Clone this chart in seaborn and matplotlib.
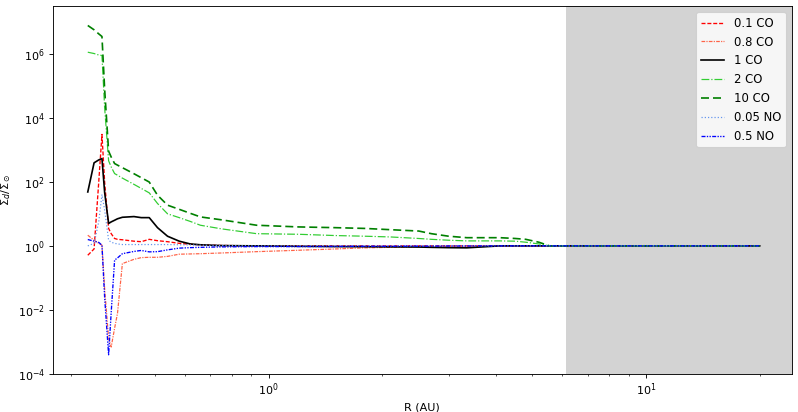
import matplotlib
matplotlib.use("Agg")
import matplotlib.pyplot as plt
import seaborn as sns
import numpy as np

R = [0.332, 0.345, 0.355, 0.362, 0.368, 0.377, 0.383, 0.391, 0.398, 0.41,
     0.44, 0.46, 0.483, 0.508, 0.54, 0.58, 0.62, 0.66, 0.75, 0.93,
     1.2, 1.5, 1.8, 2.1, 2.5, 2.7, 3.0, 3.35, 3.7, 4.1,
     4.5, 4.8, 5.2, 5.55, 6.0, 8.0, 10.0, 13.0, 16.0, 20.0]

co_01 = [0.51, 0.8, 100, 3000, 96, 3.5, 2.4, 1.7, 1.6, 1.55,
         1.4, 1.35, 1.6, 1.45, 1.35, 1.2, 1.12, 1.08, 1.03, 1.0,
         1.0, 1.0, 1.0, 1.0, 1.0, 1.0, 1.0, 1.0, 1.0, 1.0,
         1.0, 1.0, 1.0, 1.0, 1.0, 1.0, 1.0, 1.0, 1.0, 1.0]
co_08 = [2.15, 1.5, 1.2, 1.05, 0.045, 1.3e-3, 7e-4, 0.0027, 0.0079, 0.28,
         0.38, 0.43, 0.44, 0.44, 0.47, 0.55, 0.56, 0.57, 0.6, 0.66,
         0.73, 0.8, 0.87, 0.9, 0.93, 0.95, 0.96, 0.97, 0.98, 1.0,
         1.0, 1.0, 1.0, 1.0, 1.0, 1.0, 1.0, 1.0, 1.0, 1.0]
co_1 = [48, 390, 480, 530, 46, 5.0, 5.6, 6.3, 7.0, 7.8,
        8.2, 7.6, 7.6, 3.7, 2.0, 1.4, 1.15, 1.08, 1.02, 1.0,
        0.97, 0.95, 0.94, 0.93, 0.92, 0.9, 0.88, 0.87, 0.93, 1.0,
        1.0, 1.0, 1.0, 1.0, 1.0, 1.0, 1.0, 1.0, 1.0, 1.0]
co_2 = [1.1e6, 1.0e6, 9e5, 8.7e5, 2e4, 450, 290, 180, 160, 130,
        83, 62, 45, 21, 10, 7.6, 5.8, 4.4, 3.4, 2.4,
        2.3, 2.1, 2.0, 1.9, 1.7, 1.6, 1.5, 1.43, 1.43, 1.43,
        1.4, 1.3, 1.15, 1.0, 1.0, 1.0, 1.0, 1.0, 1.0, 1.0]
co_10 = [7.5e6, 5.5e6, 4.1e6, 3.4e6, 7.6e4, 900, 590, 370, 330, 275,
         178, 134, 98, 38, 18.6, 13.8, 10.4, 8.0, 6.5, 4.4,
         3.9, 3.7, 3.5, 3.2, 2.9, 2.4, 2.0, 1.8, 1.8, 1.8,
         1.7, 1.6, 1.3, 1.0, 1.0, 1.0, 1.0, 1.0, 1.0, 1.0]
no_005 = [1.0, 1.2, 5.7, 40, 13, 1.5, 1.3, 1.2, 1.15, 1.1,
          1.1, 1.1, 1.1, 1.1, 1.1, 1.08, 1.07, 1.05, 1.03, 1.0,
          1.0, 1.0, 1.0, 1.0, 1.0, 1.0, 1.0, 1.0, 1.0, 1.0,
          1.0, 1.0, 1.0, 1.0, 1.0, 1.0, 1.0, 1.0, 1.0, 1.0]
no_05 = [1.58, 1.4, 1.28, 1.05, 0.024, 4e-4, 0.0085, 0.36, 0.42, 0.57,
         0.67, 0.72, 0.65, 0.66, 0.75, 0.85, 0.88, 0.9, 0.93, 0.95,
         0.95, 0.96, 0.97, 0.97, 0.98, 0.98, 0.99, 0.99, 1.0, 1.0,
         1.0, 1.0, 1.0, 1.0, 1.0, 1.0, 1.0, 1.0, 1.0, 1.0]

labels = ["0.1 CO", "0.8 CO", "1 CO", "2 CO", "10 CO", "0.05 NO", "0.5 NO"]
series = [co_01, co_08, co_1, co_2, co_10, no_005, no_05]
colors = ["red", "tomato", "black", "limegreen", "green", "cornflowerblue", "blue"]
styles = [(0, (3, 1.4)), (0, (3, 1, 1, 1)), "-", (0, (6.4, 1.6, 1, 1.6)),
          (0, (4.8, 2.4)), (0, (1, 1.65)), (0, (3, 1, 1, 1, 1, 1))]
widths = [1.2, 1.1, 1.5, 1.1, 1.5, 1.1, 1.2]

shade_start = 6.12

fig, ax = plt.subplots(figsize=(9.975, 5.15), dpi=80)
fig.subplots_adjust(left=0.066, right=0.992, top=0.985, bottom=0.092)

ax.axvspan(shade_start, 40, color="lightgray", zorder=0, lw=0)

for lab, y, c, ls, lw in zip(labels, series, colors, styles, widths):
    sns.lineplot(x=R, y=y, ax=ax, color=c, linestyle=ls, linewidth=lw,
                 label=lab, sort=False, estimator=None)

ax.set_xscale("log")
ax.set_yscale("log")
ax.set_xlim(0.268, 24.3)
ax.set_ylim(1e-4, 3e7)
ax.set_xlabel("R (AU)")
ax.set_ylabel(r"$\Sigma_d/\Sigma_\odot$")
ax.legend(loc="upper right", fontsize=10.5)

fig.savefig("out.png", dpi=80)
